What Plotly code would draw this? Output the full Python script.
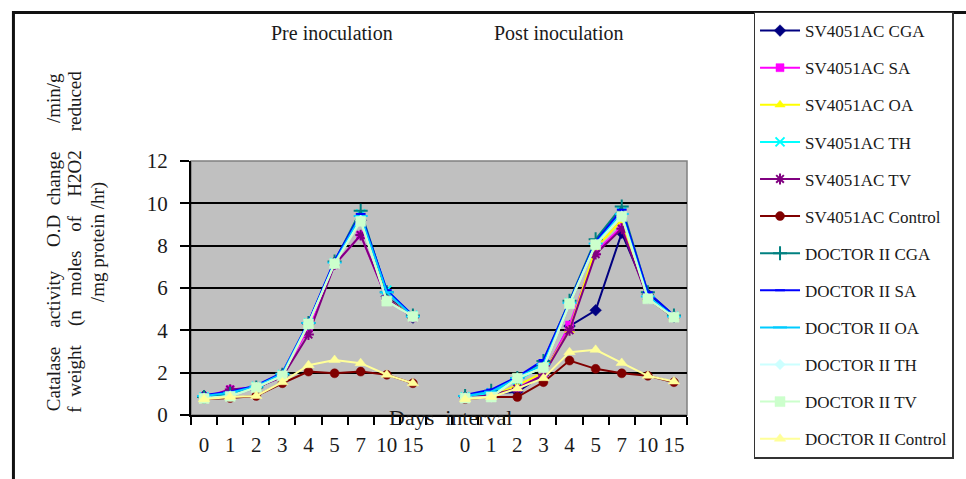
import plotly.graph_objects as go

# Sampling days (category axis), repeated for each phase
days = ["0", "1", "2", "3", "4", "5", "7", "10", "15"]
phase_titles = ["Pre inoculation", "Post inoculation"]

series_names = [
    "SV4051AC CGA", "SV4051AC SA", "SV4051AC OA", "SV4051AC TH",
    "SV4051AC TV", "SV4051AC Control", "DOCTOR II CGA", "DOCTOR II SA",
    "DOCTOR II OA", "DOCTOR II TH", "DOCTOR II TV", "DOCTOR II Control",
]

# Catalase activity, (pre inoculation, post inoculation) per series
sv_cga = ([0.90, 1.00, 1.25, 1.90, 4.30, 7.20, 9.20, 5.60, 4.60],
          [0.85, 1.00, 1.10, 1.90, 4.20, 4.95, 8.60, 5.70, 4.65])
sv_sa = ([0.85, 1.20, 1.30, 1.85, 4.10, 7.10, 8.50, 5.50, 4.60],
         [0.80, 0.95, 1.30, 1.90, 4.25, 7.70, 8.90, 5.60, 4.65])
sv_oa = ([0.80, 0.95, 1.30, 1.85, 4.30, 7.15, 9.30, 5.50, 4.65],
         [0.80, 0.90, 1.40, 2.00, 4.00, 7.90, 9.20, 5.50, 4.60])
sv_th = ([0.85, 0.95, 1.35, 1.90, 4.35, 7.20, 9.50, 5.90, 4.70],
         [0.85, 1.05, 1.65, 2.30, 5.30, 8.10, 9.60, 5.60, 4.65])
sv_tv = ([0.80, 1.20, 1.30, 1.80, 3.80, 7.10, 8.50, 5.50, 4.60],
         [0.80, 0.95, 1.25, 1.90, 4.00, 7.60, 8.80, 5.50, 4.60])
sv_control = ([0.75, 0.80, 0.90, 1.50, 2.05, 1.97, 2.05, 1.90, 1.50],
              [0.75, 0.85, 0.85, 1.55, 2.57, 2.18, 1.97, 1.85, 1.55])
dr_cga = ([0.85, 1.00, 1.30, 1.90, 4.35, 7.25, 9.65, 5.80, 4.70],
          [0.90, 1.15, 1.75, 2.55, 5.40, 8.30, 9.85, 5.80, 4.70])
dr_sa = ([0.95, 1.10, 1.40, 2.00, 4.40, 7.30, 9.50, 5.90, 4.70],
         [0.95, 1.20, 1.80, 2.60, 5.35, 8.20, 9.70, 5.80, 4.70])
dr_oa = ([0.90, 1.05, 1.35, 1.95, 4.35, 7.20, 9.40, 5.80, 4.65],
         [0.90, 1.10, 1.75, 2.40, 5.30, 8.10, 9.50, 5.60, 4.65])
dr_th = ([0.80, 0.90, 1.30, 1.85, 4.30, 7.15, 9.20, 5.40, 4.65],
         [0.80, 0.85, 1.74, 2.25, 5.26, 8.05, 9.40, 5.50, 4.62])
dr_tv = ([0.78, 0.88, 1.30, 1.85, 4.30, 7.15, 9.15, 5.38, 4.65],
         [0.80, 0.85, 1.74, 2.23, 5.26, 8.05, 9.38, 5.49, 4.62])
dr_control = ([0.75, 0.85, 0.90, 1.55, 2.35, 2.60, 2.45, 1.90, 1.50],
              [0.75, 0.85, 1.25, 1.74, 2.97, 3.08, 2.46, 1.85, 1.58])

all_series = [sv_cga, sv_sa, sv_oa, sv_th, sv_tv, sv_control,
              dr_cga, dr_sa, dr_oa, dr_th, dr_tv, dr_control]

# Line colour, marker symbol, marker size
styles = [
    ("#000080", "diamond", 9),
    ("#FF00FF", "square", 8),
    ("#FFFF00", "triangle-up", 9),
    ("#00FFFF", "x-thin", 9),
    ("#800080", "asterisk", 9),
    ("#800000", "circle", 9),
    ("#008080", "cross-thin", 10),
    ("#0000FF", "line-ew", 7),
    ("#00CCFF", "line-ew", 10),
    ("#CCFFFF", "diamond", 8),
    ("#CCFFCC", "square", 10),
    ("#FFFF99", "triangle-up", 10),
]

SERIF = "Times New Roman, Liberation Serif, serif"
TXT = "#1a1a1a"
NB = "&nbsp;"

# Slot positions: pre days, one empty slot, then post days
n = len(days)
pre_pos = list(range(n))
post_pos = [n + 1 + i for i in range(n)]
x_slots = pre_pos + [n] + post_pos
n_slots = len(x_slots)

fig = go.Figure()
for name, (pre, post), (color, symbol, msize) in zip(series_names, all_series, styles):
    open_sym = symbol in ("x-thin", "asterisk", "cross-thin", "line-ew")
    fig.add_trace(go.Scatter(
        x=x_slots,
        y=list(pre) + [None] + list(post),
        name=name,
        legendgroup=name,
        mode="lines+markers",
        connectgaps=False,
        line=dict(color=color, width=2),
        marker=dict(
            symbol=symbol, size=msize, color=color,
            line=dict(color=color, width=2 if open_sym else 0.5),
        ),
    ))

# Layout geometry (pixels)
W, H = 966, 479
L, R, T, B = 191, 698, 155, 415
pw, ph = R - L, B - T


def px(x):
    return (x - L) / pw


def py(y):
    return (B - y) / ph


annotations = []
for title, pos in zip(phase_titles, (335, 567)):
    annotations.append(dict(
        text=title, x=px(pos), y=py(24), xref="paper", yref="paper",
        showarrow=False, font=dict(family=SERIF, size=20, color=TXT),
        xanchor="center", yanchor="middle",
    ))

annotations.append(dict(
    text="Days" + NB * 2 + "interval", x=px(456), y=py(418), xref="paper", yref="paper",
    showarrow=False, font=dict(family=SERIF, size=22, color=TXT),
    xanchor="center", yanchor="middle",
))

ytitle_lines = [
    "Catalase" + NB * 4 + "activity" + NB * 5 + "O.D" + NB * 2 + "change" + NB * 6 + "/min/g",
    "f" + NB * 2 + "weight" + NB * 4 + "(n" + NB * 3 + "moles" + NB * 4 + "of" + NB * 4
    + "H2O2" + NB * 4 + "reduced",
    "/mg protein /hr)",
]
for line, xpos in zip(ytitle_lines, (50, 73, 96)):
    annotations.append(dict(
        text=line, x=px(xpos), y=py(238), xref="paper", yref="paper",
        showarrow=False, textangle=-90,
        font=dict(family=SERIF, size=19, color=TXT),
        xanchor="center", yanchor="middle",
    ))

shapes = [
    # outer chart frame
    dict(type="rect", xref="paper", yref="paper",
         x0=px(9.5), x1=px(1100), y0=py(600), y1=py(3),
         line=dict(color="#111111", width=3), layer="below"),
    # plot area border
    dict(type="rect", xref="paper", yref="paper",
         x0=0, x1=1, y0=0, y1=1,
         line=dict(color="#808080", width=1.5), layer="below"),
]

fig.update_layout(
    width=W, height=H, autosize=False,
    margin=dict(l=L, r=W - R, t=T, b=H - B, pad=0),
    paper_bgcolor="white",
    plot_bgcolor="#C0C0C0",
    showlegend=True,
    legend=dict(
        x=px(766), y=py(2), xanchor="left", yanchor="top",
        bgcolor="white", bordercolor="#333333", borderwidth=1.5,
        font=dict(family=SERIF, size=17, color=TXT),
        traceorder="grouped", tracegroupgap=12, itemwidth=40,
        maxheight=475,
    ),
    xaxis=dict(
        range=[-0.5, n_slots - 0.5],
        tickmode="array",
        tickvals=pre_pos + post_pos,
        ticktext=days + days,
        ticks="outside", ticklen=0, tickcolor="black",
        ticklabelstandoff=10,
        minor=dict(tickmode="array",
                   tickvals=[k - 0.5 for k in range(n_slots + 1)],
                   ticks="outside", ticklen=8, tickwidth=1.5,
                   tickcolor="black", showgrid=False),
        showgrid=False, zeroline=False,
        showline=True, linecolor="black", linewidth=2,
        tickfont=dict(family=SERIF, size=21, color=TXT),
        fixedrange=True,
    ),
    yaxis=dict(
        range=[0, 12], tickmode="linear", tick0=0, dtick=2,
        ticks="outside", ticklen=9, tickwidth=1.5, tickcolor="black",
        ticklabelstandoff=8,
        showgrid=True, gridcolor="black", gridwidth=2,
        zeroline=False,
        showline=True, linecolor="black", linewidth=2,
        tickfont=dict(family=SERIF, size=21, color=TXT),
        fixedrange=True,
    ),
    annotations=annotations,
    shapes=shapes,
)

fig.write_html("out.html")
